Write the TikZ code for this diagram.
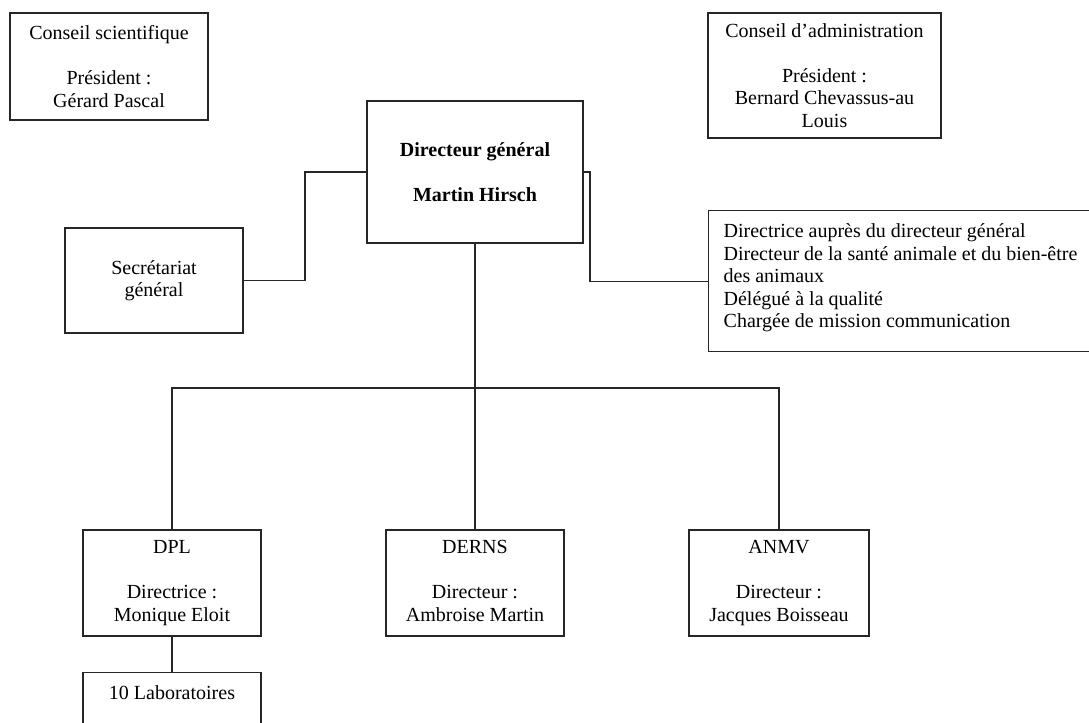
\documentclass[tikz,border=0pt]{standalone}
\usepackage{fontspec}
\setmainfont{Liberation Serif}
\usepackage{tikz}
\usetikzlibrary{positioning,calc}

\begin{document}
\begin{tikzpicture}[x=0.6pt, y=-0.6pt, line width=0.8pt,
 orgbox/.style={draw=black!85, align=center, inner sep=0pt,
   font=\fontsize{12}{13.5}\selectfont},
 dirbox/.style={orgbox, minimum width=106.8pt, minimum height=63.6pt, text depth=2.5pt,
   execute at begin node=\rule{0pt}{12pt}},
 orglink/.style={draw=black!85}]
\clip (0,0) rectangle (1089,722);
\node[orgbox, minimum width=118.8pt, minimum height=64.2pt] (cs) at (109, 66.5) {Conseil scientifique\\[13.5pt] Président :\\ Gérard Pascal};
\node[orgbox, minimum width=139.8pt, minimum height=75pt, execute at begin node=\rule{0pt}{13pt}] (ca) at (824.5, 75.5) {Conseil d’administration\\[13.5pt] Président :\\ Bernard Chevassus-au\\ Louis};
\node[orgbox, minimum width=129.6pt, minimum height=85.2pt, font=\fontsize{12}{13.5}\selectfont\bfseries] (dg) at (475, 172) {Directeur général\\[13.5pt] Martin Hirsch};
\node[orgbox, minimum width=106.8pt, minimum height=63pt, execute at begin node=\rule{0pt}{13pt}] (sg) at (154, 280.5) {Secrétariat\\ général};
\node[orgbox, anchor=north west, minimum width=250pt, minimum height=84.6pt] (cab) at (708, 210) {};
\node[orgbox, draw=none, align=left, anchor=north west] (cab_txt) at (723, 223) {Directrice auprès du directeur général\\ Directeur de la santé animale et du bien-être\\ des animaux\\ Délégué à la qualité\\ Chargée de mission communication};
% directions
\node[dirbox] (dpl) at (172, 583) {DPL\\[13.5pt] Directrice :\\ Monique Eloit};
\node[dirbox] (derns) at (475, 583) {DERNS\\[13.5pt] Directeur :\\ Ambroise Martin};
\node[dirbox, minimum width=108pt] (anmv) at (779, 583) {ANMV\\[13.5pt] Directeur :\\ Jacques Boisseau};
\node[orgbox, anchor=north, minimum width=106.8pt, inner ysep=5pt, text height=11pt, text depth=50pt] (lab) at (172, 672) {10 Laboratoires};
% connections
\coordinate (lbend) at (305, 0);
\coordinate (rbend) at (590, 0);
\coordinate (bus) at (0, 388);
\path[orglink] (dg.west) -- (dg.west -| lbend) |- (sg.east);
\path[orglink] (dg.east) -- (dg.east -| rbend) |- (cab.west);
\path[orglink] (dg.south) -- (dg.south |- bus);
\path[orglink] (dpl.north) -- (dpl.north |- bus) -- (anmv.north |- bus) -- (anmv.north);
\path[orglink] (derns.north |- bus) -- (derns.north);
\path[orglink] (dpl.south) -- (lab.north);
\end{tikzpicture}
\end{document}
